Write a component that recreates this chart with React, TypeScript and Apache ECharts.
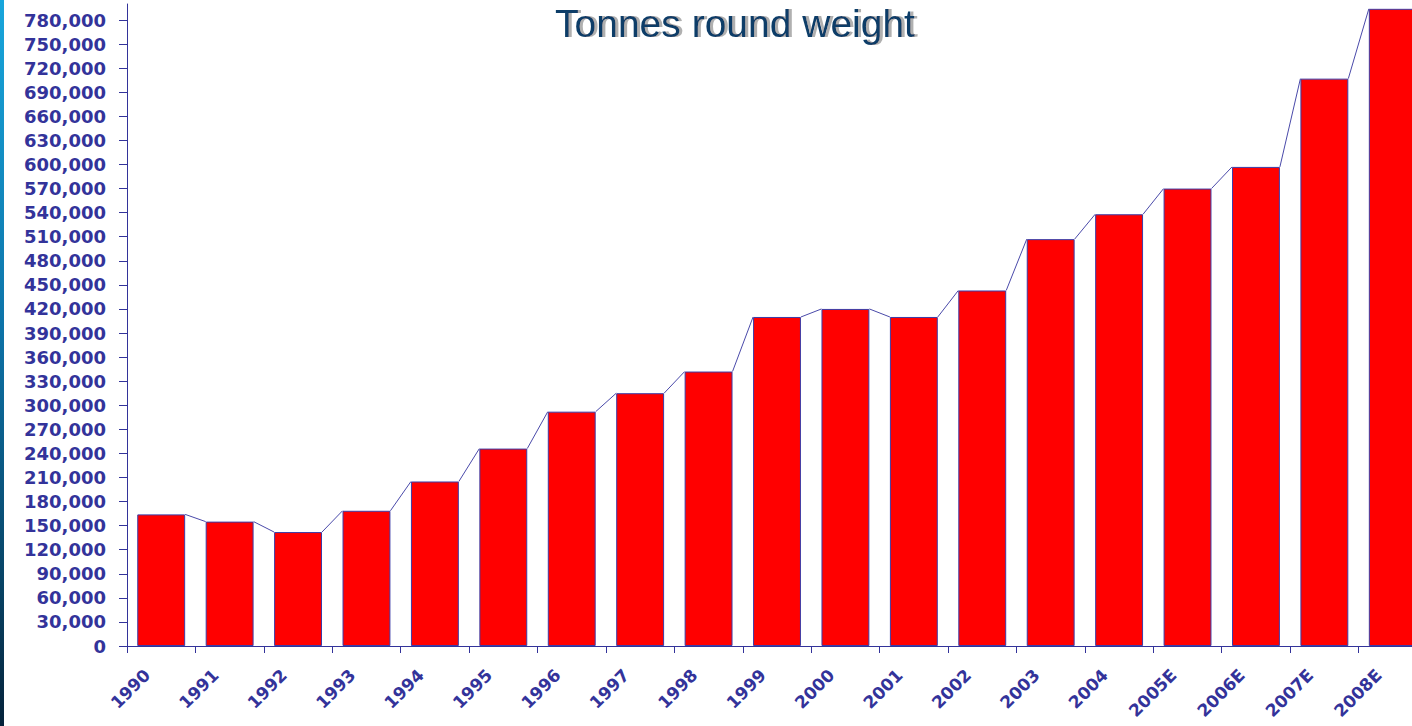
import React, { useEffect, useRef } from "react";
import * as echarts from "echarts";

const categories = [
  "1990", "1991", "1992", "1993", "1994", "1995", "1996", "1997", "1998", "1999",
  "2000", "2001", "2002", "2003", "2004", "2005E", "2006E", "2007E", "2008E",
];
const tonnes = [
  164000, 155000, 142000, 168500, 205000, 246000, 292000, 315000, 342000, 410000,
  420000, 410000, 443000, 507000, 538000, 570000, 597000, 707000, 794000,
];
const titleText = "Tonnes round weight";
const yMax = 800000;
const yStep = 30000;

const AXIS = "#33339a";
const BAR_GAP = 0.3;
const TITLE_FONT = "39px 'Liberation Sans', Arial, sans-serif";

export default function App() {
  const ref = useRef<HTMLDivElement>(null);
  useEffect(() => {
    document.body.style.margin = "0";
    const chart = echarts.init(ref.current!, null, { renderer: "svg" });
    const seriesLines = tonnes.slice(0, -1).map((v, i) => [i, v, tonnes[i + 1]]);
    chart.setOption({
      animation: false,
      backgroundColor: "#ffffff",
      graphic: [
        {
          type: "rect",
          left: 0,
          top: 0,
          shape: { width: 4, height: 726 },
          style: {
            fill: new echarts.graphic.LinearGradient(0, 0, 0, 1, [
              { offset: 0, color: "#18a6dc" },
              { offset: 0.45, color: "#0d73a8" },
              { offset: 0.8, color: "#084466" },
              { offset: 1, color: "#05223a" },
            ]),
          },
          silent: true,
        },
        {
          type: "text",
          x: 735,
          y: 23,
          style: {
            text: titleText,
            fill: "#0c3d68",
            font: TITLE_FONT,
            align: "center",
            verticalAlign: "middle",
            textShadowColor: "#b0b0b0",
            textShadowBlur: 1,
            textShadowOffsetX: 3,
            textShadowOffsetY: 0,
          },
          z: 10,
        },
      ],
      grid: { left: 127, top: 4, width: 1300, height: 642, containLabel: false },
      xAxis: [
        {
          type: "category",
          data: categories,
          boundaryGap: true,
          axisLine: { lineStyle: { color: AXIS, width: 1 } },
          axisTick: { show: true, inside: false, length: 7, lineStyle: { color: AXIS } },
          axisLabel: {
            rotate: 45,
            margin: 12,
            interval: 0,
            color: AXIS,
            fontWeight: "bold",
            fontSize: 17,
            fontFamily: "'DejaVu Sans', Verdana, sans-serif",
            padding: [0, 20, 0, 0],
          },
        },
        {
          type: "category",
          data: categories,
          boundaryGap: true,
          axisLine: { show: false },
          axisTick: { show: true, inside: true, length: 6, lineStyle: { color: AXIS } },
          axisLabel: { show: false },
        },
      ],
      yAxis: [
        {
          type: "value",
          min: 0,
          max: yMax,
          interval: yStep,
          splitLine: { show: false },
          axisLine: { show: true, lineStyle: { color: AXIS, width: 1 } },
          axisTick: { show: true, inside: false, length: 8, lineStyle: { color: AXIS } },
          axisLabel: {
            showMaxLabel: false,
            margin: 21,
            color: AXIS,
            fontWeight: "bold",
            fontSize: 18,
            fontFamily: "'DejaVu Sans', Verdana, sans-serif",
            formatter: (v: number) => v.toLocaleString("en-US"),
          },
        },
        {
          type: "value",
          min: 0,
          max: yMax,
          interval: yStep,
          splitLine: { show: false },
          axisLine: { show: false },
          axisTick: { show: true, inside: true, length: 4, lineStyle: { color: AXIS } },
          axisLabel: { show: false, showMaxLabel: false },
        },
      ],
      series: [
        {
          type: "bar",
          data: tonnes,
          barCategoryGap: BAR_GAP * 100 + "%",
          itemStyle: { color: "#ff0000", borderColor: "#3c3ca6", borderWidth: 1 },
          z: 2,
        },
        {
          type: "custom",
          data: seriesLines,
          z: 3,
          renderItem: (params: any, api: any) => {
            const i = api.value(0);
            const a = api.coord([i, api.value(1)]);
            const b = api.coord([i + 1, api.value(2)]);
            const bw = api.size([1, 0])[0] * (1 - BAR_GAP);
            return {
              type: "line",
              shape: { x1: a[0] + bw / 2, y1: a[1], x2: b[0] - bw / 2, y2: b[1] },
              style: { stroke: "#4a4aaa", lineWidth: 1 },
            };
          },
        },
      ],
    });
    return () => chart.dispose();
  }, []);
  return (
    <div style={{ width: 1412, height: 726, overflow: "hidden", position: "relative" }}>
      <div ref={ref} style={{ width: 1440, height: 726 }} />
    </div>
  );
}
